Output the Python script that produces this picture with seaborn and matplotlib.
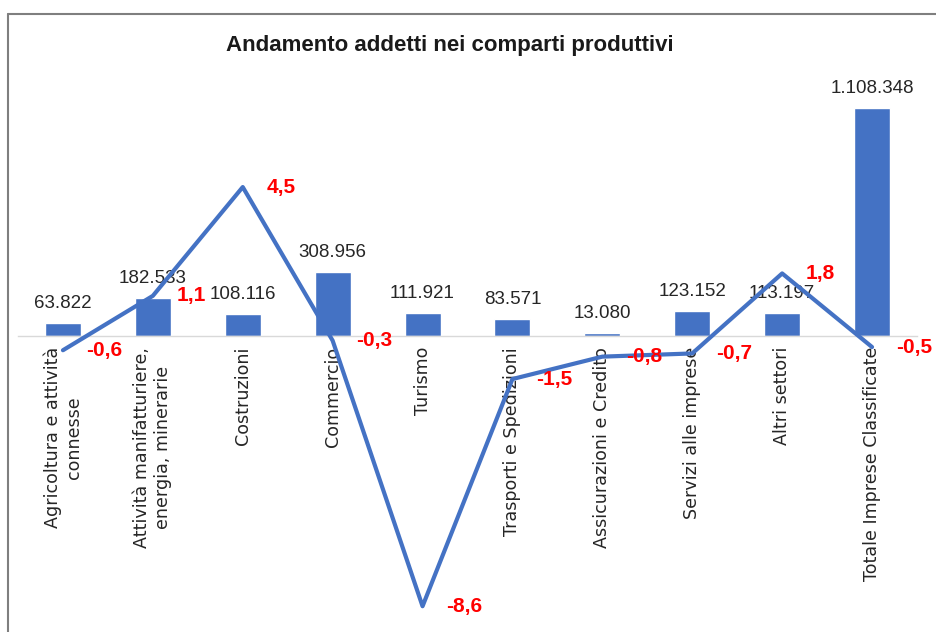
import numpy as np
import matplotlib
matplotlib.use("Agg")
import matplotlib.pyplot as plt
import seaborn as sns
from matplotlib.lines import Line2D

# Data
categorie = ["Agricoltura e attività\nconnesse",
             "Attività manifatturiere,\nenergia, minerarie",
             "Costruzioni", "Commercio", "Turismo",
             "Trasporti e Spedizioni", "Assicurazioni e Credito",
             "Servizi alle imprese", "Altri settori",
             "Totale Imprese Classificate"]
addetti = [63822, 182533, 108116, 308956, 111921, 83571, 13080, 123152, 113197, 1108348]
variazioni = [-0.6, 1.1, 4.5, -0.3, -8.6, -1.5, -0.8, -0.7, 1.8, -0.5]
etichette_var = ["-0,6", "1,1", "4,5", "-0,3", "-8,6", "-1,5", "-0,8", "-0,7", "1,8", "-0,5"]

blu = "#4472C4"

sns.set_style("white")
plt.rcParams['font.family'] = ['DejaVu Sans']

W, H = 937, 632
fig = plt.figure(figsize=(W / 100, H / 100), dpi=100)
ax = fig.add_axes([18 / W, 1 - 620 / H, (917 - 18) / W, 560 / H])

# Bars
x = np.arange(len(categorie))
sns.barplot(x=x, y=addetti, color=blu, width=0.4, saturation=1, ax=ax)
ax.set_ylim(-1380600, 1341700)
ax.set_xlim(-0.5, len(categorie) - 0.5)

for i, v in enumerate(addetti):
    lab = f"{v:,}".replace(",", ".")
    ax.annotate(lab, (i, v), xytext=(0, 8), textcoords="offset points",
                ha="center", va="bottom", fontsize=13.5, color="#262626",
                family="Liberation Sans")

for s in ["top", "right", "left"]:
    ax.spines[s].set_visible(False)
ax.spines["bottom"].set_position(("data", 0))
ax.spines["bottom"].set_color("#D9D9D9")
ax.spines["bottom"].set_linewidth(1)
ax.set_yticks([])
ax.set_xticks(x)
ax.set_xticklabels(categorie, rotation=90, ha="center", va="top",
                   fontsize=12.6, color="#262626", multialignment="center")
ax.tick_params(axis="x", length=0, pad=8)
ax.set_xlabel("")
ax.set_ylabel("")

# Line on secondary axis
ax2 = ax.twinx()
sns.lineplot(x=x, y=variazioni, color=blu, linewidth=3, ax=ax2)
ax2.set_ylim(-9.03, 8.47)
ax2.set_yticks([])
ax2.set_ylabel("")
for s in ax2.spines.values():
    s.set_visible(False)

for i, (v, t) in enumerate(zip(variazioni, etichette_var)):
    ax2.annotate(t, (i, v), xytext=(17, 0), textcoords="offset points",
                 ha="left", va="center", fontsize=15, fontweight="bold",
                 color="#FF0000", family="Liberation Sans")

# Title
fig.text(450 / W, 1 - 46 / H, "Andamento addetti nei comparti produttivi",
         ha="center", va="center", fontsize=16, fontweight="bold",
         color="#1a1a1a", family="Liberation Sans")

# Chart frame
fig.add_artist(Line2D([8 / W, 8 / W], [0, 1 - 14 / H], transform=fig.transFigure,
                      color="#7f7f7f", linewidth=1.5))
fig.add_artist(Line2D([8 / W, 1], [1 - 14 / H, 1 - 14 / H], transform=fig.transFigure,
                      color="#7f7f7f", linewidth=1.5))

fig.savefig("out.png", dpi=100)
